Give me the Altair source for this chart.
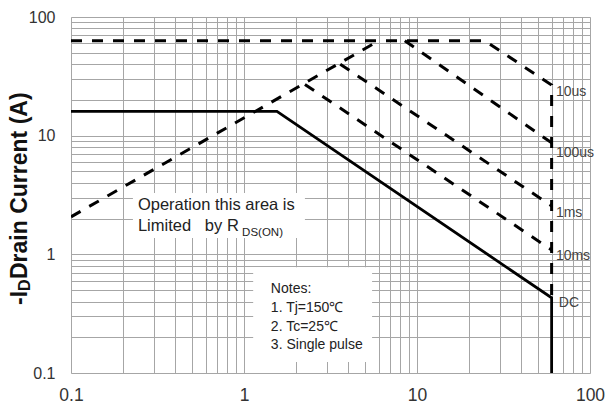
import altair as alt
import pandas as pd

# ---------------- data ----------------
grid_values = [0.1, 0.2, 0.3, 0.4, 0.5, 0.6, 0.7, 0.8, 0.9,
               1, 2, 3, 4, 5, 6, 7, 8, 9,
               10, 20, 30, 40, 50, 60, 70, 80, 90, 100]
label_values = [0.1, 1, 10, 100]

dc_v = [0.1, 1.55, 60, 60]
dc_i = [16, 16, 0.43, 0.1]
rds_v = [0.1, 6.0]
rds_i = [2.07, 63]
t10us_v = [0.1, 24.7, 60, 60]
t10us_i = [63, 63, 26.7, 0.43]
t100us_v = [8.5, 60]
t100us_i = [63, 8.7]
t1ms_v = [3.6, 60]
t1ms_i = [40, 2.56]
t10ms_v = [2.25, 60]
t10ms_i = [27, 1.09]

curve_names = ["10us", "100us", "1ms", "10ms", "DC"]
curve_label_v = [63.5, 63.5, 63.5, 63.5, 66]
curve_label_i = [23.3, 7.2, 2.23, 0.97, 0.39]

notes_lines = ["Notes:", "1. Tj=150\u2103", "2. Tc=25\u2103", "3. Single pulse"]
notes_v = [1.43, 1.43, 1.43, 1.43]
notes_i = [0.511, 0.3535, 0.2445, 0.1725]

op_lines = ["Operation this area is", "Limited\u00a0\u00a0\u00a0by R"]
op_v = [0.2437, 0.2437]
op_i = [2.61, 1.73]
sub_text = ["DS(ON)"]
sub_v = [0.975]
sub_i = [1.51]

boxes_v1 = [0.228, 1.13]
boxes_v2 = [2.25, 5.5]
boxes_i1 = [1.37, 0.124]
boxes_i2 = [3.29, 0.78]

FONT = "Liberation Sans"

# ---------------- tables ----------------
def series(name, vs, is_):
    return pd.DataFrame({"series": name, "v": vs, "i": is_, "o": range(len(vs))})

dashed = pd.concat([
    series("rds", rds_v, rds_i),
    series("10us", t10us_v, t10us_i),
    series("100us", t100us_v, t100us_i),
    series("1ms", t1ms_v, t1ms_i),
    series("10ms", t10ms_v, t10ms_i),
])
solid = series("DC", dc_v, dc_i)
labels_df = pd.DataFrame({"t": curve_names, "v": curve_label_v, "i": curve_label_i})
notes_df = pd.DataFrame({"t": notes_lines, "v": notes_v, "i": notes_i})
op_df = pd.DataFrame({"t": op_lines, "v": op_v, "i": op_i})
sub_df = pd.DataFrame({"t": sub_text, "v": sub_v, "i": sub_i})
box_df = pd.DataFrame({"v1": boxes_v1, "v2": boxes_v2, "i1": boxes_i1, "i2": boxes_i2})

lab_expr = ("datum.value == 0.1 ? '0.1' : datum.value == 1 ? '1' : "
            "datum.value == 10 ? '10' : datum.value == 100 ? '100' : ''")

xscale = alt.Scale(type="log", domain=[0.1, 100], nice=False)
yscale = alt.Scale(type="log", domain=[0.1, 100], nice=False)

xaxis = alt.Axis(values=grid_values, labelExpr=lab_expr, grid=True, ticks=False,
                 domain=False, title=None, labelFontSize=17.5, labelFont=FONT,
                 labelColor="#333333", labelPadding=13, labelFlush=False,
                 labelOverlap=False, gridColor="#a6a6a6", gridWidth=1)
yaxis = alt.Axis(values=grid_values, labelExpr=lab_expr, grid=True, ticks=False,
                 domain=False, title=None, labelFontSize=16, labelFont=FONT,
                 labelColor="#333333", labelPadding=16, labelFlush=False,
                 labelOverlap=False, gridColor="#a6a6a6", gridWidth=1)

X = alt.X("v:Q", scale=xscale, axis=xaxis)
Y = alt.Y("i:Q", scale=yscale, axis=yaxis)

boxes = alt.Chart(box_df).mark_rect(color="white", opacity=1).encode(
    x=alt.X("v1:Q", scale=xscale, axis=xaxis), x2="v2:Q",
    y=alt.Y("i1:Q", scale=yscale, axis=yaxis), y2="i2:Q")

dash_lines = alt.Chart(dashed).mark_line(
    color="black", strokeWidth=3, strokeDash=[11, 10], clip=True
).encode(x=X, y=Y, detail="series:N", order="o:Q")

solid_line = alt.Chart(solid).mark_line(
    color="black", strokeWidth=2.8, clip=True
).encode(x=X, y=Y, order="o:Q")

curve_labels = alt.Chart(labels_df).mark_text(
    align="left", baseline="middle", font=FONT, fontSize=14, color="#444444"
).encode(x=X, y=Y, text="t:N")

notes = alt.Chart(notes_df).mark_text(
    align="left", baseline="middle", font=FONT, fontSize=14, color="#222222"
).encode(x=X, y=Y, text="t:N")

op = alt.Chart(op_df).mark_text(
    align="left", baseline="middle", font=FONT, fontSize=16.5, color="#222222"
).encode(x=X, y=Y, text="t:N")

sub = alt.Chart(sub_df).mark_text(
    align="left", baseline="middle", font=FONT, fontSize=11.5, color="#222222"
).encode(x=X, y=Y, text="t:N")

# y-axis title with subscript D
t1 = alt.Chart(pd.DataFrame({"t": ["-I"]})).mark_text(
    align="left", baseline="alphabetic", angle=270, font=FONT, fontSize=23,
    fontWeight="bold", color="#111111"
).encode(x=alt.value(-44), y=alt.value(288), text="t:N")
t2 = alt.Chart(pd.DataFrame({"t": ["D"]})).mark_text(
    align="left", baseline="alphabetic", angle=270, font=FONT, fontSize=16,
    fontWeight="bold", color="#111111"
).encode(x=alt.value(-41), y=alt.value(274), text="t:N")
t3 = alt.Chart(pd.DataFrame({"t": ["\u00a0Drain Current (A)"]})).mark_text(
    align="left", baseline="alphabetic", angle=270, font=FONT, fontSize=23,
    fontWeight="bold", color="#111111"
).encode(x=alt.value(-44), y=alt.value(262), text="t:N")

chart = alt.layer(
    boxes, dash_lines, solid_line, curve_labels, notes, op, sub, t1, t2, t3
).properties(
    width=519, height=356,
    autosize=alt.AutoSizeParams(type="none"),
    padding={"left": 71, "top": 17, "right": 18, "bottom": 37},
).configure_view(
    stroke="#8a8a8a", strokeWidth=1
).configure(background="white")

chart.save("out.html", embed_options={"renderer": "svg", "actions": False})
